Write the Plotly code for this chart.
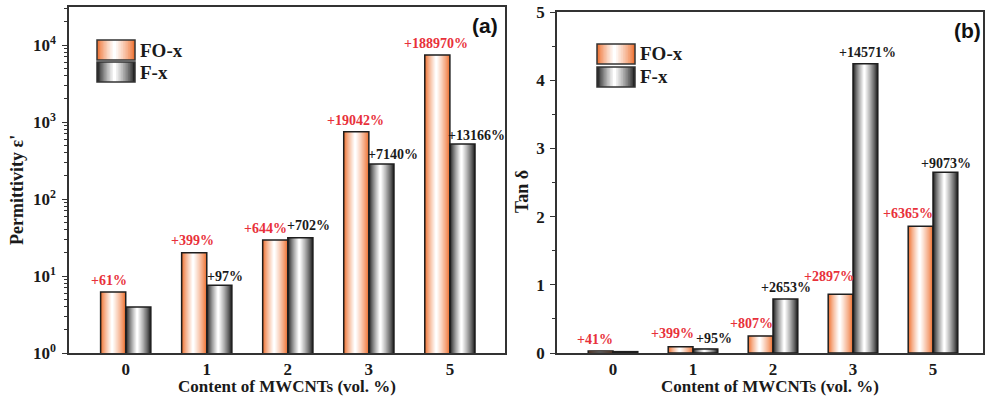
import math
import plotly.graph_objects as go

# ---------------- data ----------------
categories = ["0", "1", "2", "3", "5"]

perm_fo = [6.2, 20.0, 29.4, 748, 7420]
perm_f = [3.95, 7.6, 31.4, 285, 518]
perm_fo_labels = ["+61%", "+399%", "+644%", "+19042%", "+188970%"]
perm_f_labels = ["", "+97%", "+702%", "+7140%", "+13166%"]

tan_fo = [0.03, 0.09, 0.25, 0.86, 1.86]
tan_f = [0.02, 0.06, 0.79, 4.24, 2.65]
tan_fo_labels = ["+41%", "+399%", "+807%", "+2897%", "+6365%"]
tan_f_labels = ["", "+95%", "+2653%", "+14571%", "+9073%"]

perm_tickvals = [1, 10, 100, 1000, 10000]
perm_ticktext = ["10<sup>0</sup>", "10<sup>1</sup>", "10<sup>2</sup>", "10<sup>3</sup>", "10<sup>4</sup>"]
perm_minor = [m * 10 ** d for d in range(0, 5) for m in range(2, 10)]
tan_tickvals = [0, 1, 2, 3, 4, 5]
tan_ticktext = ["0", "1", "2", "3", "4", "5"]

series_names = ["FO-x", "F-x"]
x_title = "Content of MWCNTs (vol. %)"

# ---------------- style / layout params ----------------
W, H = 986, 396
SERIF = "Liberation Serif"
ORANGE = (238, 112, 48)
GREY = (30, 30, 30)
RED = "#e8313a"
DARK = "#1a1a1a"
AX = "#333333"
BW = 0.31          # bar width (category units)
NL = 12            # gradient layers
WHITE_POS = 0.46   # position of the highlight across a bar

# label offsets (category units) and gaps (px above bar top)
perm_fo_pos = [(-0.21, 8), (-0.18, 9), (-0.27, 8), (-0.17, 8), (-0.17, 9)]
perm_f_pos = [(0, 0), (0.23, 6), (0.26, 9), (0.30, 6), (0.33, 6)]
tan_fo_pos = [(-0.225, 8), (-0.26, 10), (-0.275, 9), (-0.30, 15), (-0.31, 10)]
tan_f_pos = [(0, 0), (0.26, 7), (0.16, 9), (0.175, 8), (0.16, 6)]


def mix(c, t):
    r = [round(c[i] + (255 - c[i]) * t) for i in range(3)]
    return "rgb(%d,%d,%d)" % tuple(r)


def px_x(x):
    return x / W


def px_y(y):
    return 1 - y / H


fig = go.Figure()


def add_bars(values, base_col, side, xa, ya, name):
    # side: -1 -> left bar of the group, 0 -> right bar
    c0 = side * BW + BW / 2
    for k in range(NL):
        f = 1 - k / NL
        wk = BW * f
        t = (k / (NL - 1)) ** 0.8
        ck = c0 + (WHITE_POS - 0.5) * BW * (k / (NL - 1))
        fig.add_trace(go.Bar(
            x=categories, y=values, xaxis=xa, yaxis=ya,
            width=wk, offset=ck - wk / 2,
            marker=dict(color=mix(base_col, t), line=dict(width=0)),
            showlegend=False, hoverinfo="skip", name=name))
    fig.add_trace(go.Bar(
        x=categories, y=values, xaxis=xa, yaxis=ya,
        width=BW, offset=c0 - BW / 2,
        marker=dict(color="rgba(0,0,0,0)", line=dict(color="#1e1e1e", width=1.5)),
        showlegend=False, name=name))


add_bars(perm_fo, ORANGE, -1, "x", "y", "FO-x")
add_bars(perm_f, GREY, 0, "x", "y", "F-x")
add_bars(tan_fo, ORANGE, -1, "x2", "y2", "FO-x")
add_bars(tan_f, GREY, 0, "x2", "y2", "F-x")

annotations = []
label_font = dict(family=SERIF, size=14, weight="bold")


def add_labels(values, labels, pos, color, xref, yref, log):
    for i, (v, lab) in enumerate(zip(values, labels)):
        if not lab:
            continue
        dx, gap = pos[i]
        annotations.append(dict(
            x=i + dx, y=math.log10(v) if log else v, xref=xref, yref=yref,
            text=lab, showarrow=False,
            xanchor="center", yanchor="middle", yshift=gap + 3,
            font=dict(label_font, color=color)))


add_labels(perm_fo, perm_fo_labels, perm_fo_pos, RED, "x", "y", True)
add_labels(perm_f, perm_f_labels, perm_f_pos, DARK, "x", "y", True)
add_labels(tan_fo, tan_fo_labels, tan_fo_pos, RED, "x2", "y2", False)
add_labels(tan_f, tan_f_labels, tan_f_pos, DARK, "x2", "y2", False)

annotations.append(dict(x=px_x(17), y=px_y(190), xref="paper", yref="paper",
                        text="Permittivity ε'", showarrow=False, textangle=-90,
                        xanchor="center", yanchor="middle",
                        font=dict(family=SERIF, size=18, color=DARK, weight="bold")))
annotations.append(dict(x=px_x(522), y=px_y(192), xref="paper", yref="paper",
                        text="Tan δ", showarrow=False, textangle=-90,
                        xanchor="center", yanchor="middle",
                        font=dict(family=SERIF, size=18, color=DARK, weight="bold")))
# panel letters
annotations.append(dict(x=px_x(485), y=px_y(26), xref="paper", yref="paper",
                        text="(a)", showarrow=False, xanchor="center", yanchor="middle",
                        font=dict(family="Liberation Sans", size=21, color="#111", weight="bold")))
annotations.append(dict(x=px_x(967), y=px_y(30), xref="paper", yref="paper",
                        text="(b)", showarrow=False, xanchor="center", yanchor="middle",
                        font=dict(family="Liberation Sans", size=21, color="#111", weight="bold")))

# manual legends with gradient swatches
shapes = []


def swatch(x0, y0, x1, y1, col):
    for k in range(NL):
        f = 1 - k / NL
        w = (x1 - x0) * f
        t = (k / (NL - 1)) ** 0.8
        c = (x0 + x1) / 2 + (WHITE_POS - 0.5) * (x1 - x0) * (k / (NL - 1))
        shapes.append(dict(type="rect", xref="paper", yref="paper",
                           x0=px_x(c - w / 2), x1=px_x(c + w / 2),
                           y0=px_y(y1), y1=px_y(y0),
                           fillcolor=mix(col, t), line=dict(width=0), layer="above"))
    shapes.append(dict(type="rect", xref="paper", yref="paper",
                       x0=px_x(x0), x1=px_x(x1), y0=px_y(y1), y1=px_y(y0),
                       fillcolor="rgba(0,0,0,0)", line=dict(color="#333", width=1.5),
                       layer="above"))


for (lx, ly0, ly1) in ((97, 40, 62), (597, 44, 67)):
    swatch(lx, ly0, lx + 38, ly0 + 20, ORANGE)
    swatch(lx, ly1, lx + 38, ly1 + 20, GREY)
    annotations.append(dict(x=px_x(lx + 41), y=px_y(ly0 + 10), xref="paper", yref="paper",
                            text=series_names[0], showarrow=False,
                            xanchor="left", yanchor="middle",
                            font=dict(family=SERIF, size=19, color=DARK, weight="bold")))
    annotations.append(dict(x=px_x(lx + 41), y=px_y(ly1 + 10), xref="paper", yref="paper",
                            text=series_names[1], showarrow=False,
                            xanchor="left", yanchor="middle",
                            font=dict(family=SERIF, size=19, color=DARK, weight="bold")))

xcommon = dict(type="category", showline=True, mirror=True, linecolor=AX, linewidth=1.5,
               ticks="", showgrid=False, zeroline=False,
               tickfont=dict(family=SERIF, size=17, color=DARK, weight="bold"),
               title=dict(text=x_title, standoff=5,
                          font=dict(family=SERIF, size=17, color=DARK, weight="bold")),
               automargin=False,
               categoryorder="array", categoryarray=categories, fixedrange=True)
ycommon = dict(showline=True, mirror=True, linecolor=AX, linewidth=1.5,
               ticks="outside", ticklen=5, tickwidth=1.3, tickcolor=AX,
               showgrid=False, zeroline=False,
               tickfont=dict(family=SERIF, size=17, color=DARK, weight="bold"),
               automargin=False, fixedrange=True)

fig.update_layout(
    width=W, height=H, margin=dict(l=0, r=0, t=0, b=0),
    paper_bgcolor="white", plot_bgcolor="white",
    barmode="overlay", showlegend=False,
    xaxis=dict(xcommon, domain=[px_x(69), px_x(505)], range=[-0.7, 4.68], anchor="y"),
    yaxis=dict(ycommon, domain=[px_y(353), px_y(7)], type="log", range=[0, 4.494],
               tickmode="array", tickvals=perm_tickvals, ticktext=perm_ticktext,
               ticklabelstandoff=3,
               minor=dict(tickmode="array", tickvals=perm_minor, ticks="outside",
                          ticklen=3, tickcolor=AX, showgrid=False),
               anchor="x"),
    xaxis2=dict(xcommon, domain=[px_x(557), px_x(983)], range=[-0.7, 4.625], anchor="y2"),
    yaxis2=dict(ycommon, domain=[px_y(353), px_y(12)], range=[0, 5],
                tickmode="array", tickvals=tan_tickvals, ticktext=tan_ticktext,
                ticklabelstandoff=2,
                minor=dict(dtick=0.5, ticks="outside", ticklen=3, tickcolor=AX, showgrid=False),
                anchor="x2"),
    annotations=annotations, shapes=shapes,
)

fig.write_html("out.html")
